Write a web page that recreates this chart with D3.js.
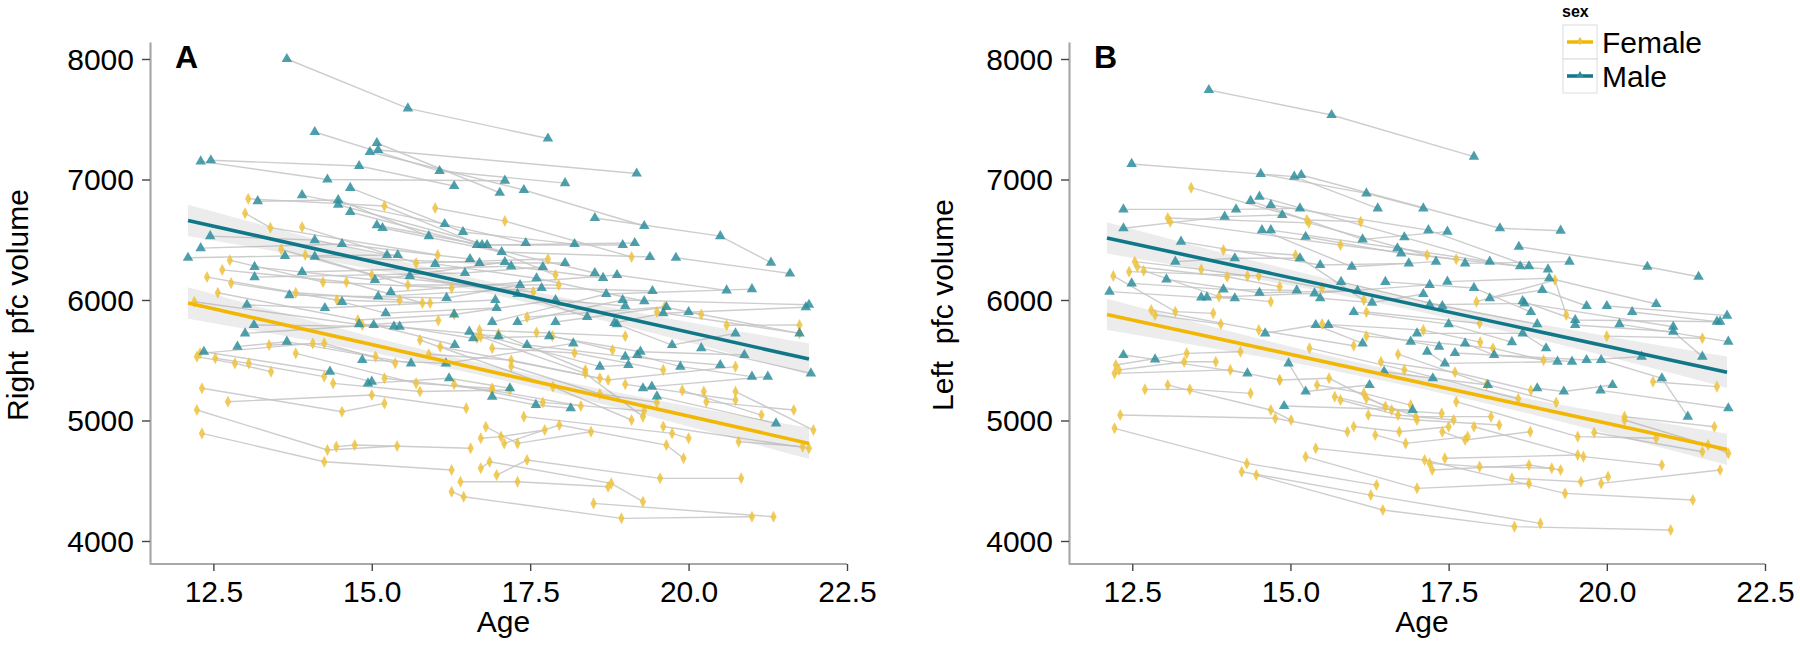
<!DOCTYPE html>
<html><head><meta charset="utf-8">
<script src="https://cdn.jsdelivr.net/npm/d3@7"></script>
<style>
html,body{margin:0;padding:0;background:#fff;}
svg{display:block;font-family:"Liberation Sans",Arial,sans-serif;}
</style></head><body>
<svg id="c" width="1800" height="645"></svg>
<script>
// ---------------- DATA ----------------
const xTicks = [12.5, 15.0, 17.5, 20.0, 22.5];
const yTicks = [4000, 5000, 6000, 7000, 8000];
const sexes = ["Female", "Male"];
const panelLetters = ["A", "B"];
const yTitles = ["Right  pfc volume", "Left  pfc volume"];

// Right pfc volume, per subject: [age, volume] visits
const rightFemale = [
 [[13.05,6840],[15.2,6780],[17.9,6207]],
 [[13.0,6720],[13.4,6600],[16.04,6373]],
 [[13.9,6605],[15.7,6307],[17.78,6340]],
 [[16.0,6763],[17.1,6655],[19.1,6357]],
 [[13.57,6420],[15.0,6207],[17.55,6066]],
 [[13.95,6373],[15.57,6124],[17.95,6124]],
 [[12.76,6330],[14.23,6149],[16.26,6099]],
 [[12.64,6250],[14.6,6149],[15.8,5975]],
 [[12.4,6190],[13.8,6060],[15.44,6000]],
 [[12.78,6140],[14.45,6000],[15.92,5975]],
 [[12.57,6060],[14.78,5834],[16.3,5880]],
 [[12.2,5985],[14.85,5792],[16.05,5830]],
 [[17.45,5858],[19.62,5942],[20.2,5880]],
 [[16.7,5750],[17.6,5730],[19.0,5700]],
 [[16.66,5684],[17.85,5700],[18.8,5585]],
 [[17.0,5720],[18.37,5419]],
 [[16.72,5696],[18.37,5391],[19.28,5032]],
 [[15.76,5668],[17.86,5281],[19.1,5004]],
 [[12.24,5530],[12.84,5474],[13.41,5405]],
 [[12.29,5557],[14.07,5640],[15.06,5530]],
 [[12.53,5516],[13.06,5474],[14.25,5364]],
 [[13.38,5626],[14.25,5640],[15.37,5474]],
 [[13.8,5557],[15.7,5308],[16.9,5267]],
 [[14.39,5308],[15.76,5240],[17.18,5253]],
 [[12.32,5267],[14.53,5073],[15.2,5142]],
 [[12.73,5156],[15.0,5211],[16.49,5101]],
 [[12.24,5087],[14.3,4755],[15.4,4788]],
 [[12.32,4893],[14.25,4658],[16.26,4589]],
 [[14.44,4783],[14.73,4796],[16.56,4769]],
 [[16.08,5612],[18.73,5336],[20.74,5447]],
 [[16.8,4948],[17.3,4810],[18.46,4907]],
 [[16.72,4852],[17.04,4866],[17.73,4921]],
 [[16.4,4492],[17.3,4492],[18.73,4450]],
 [[16.26,4409],[16.45,4367],[18.94,4188],[21.0,4201]],
 [[16.72,4603],[16.86,4658],[18.78,4478],[19.28,4326]],
 [[16.97,4547],[17.45,4672],[19.55,4520],[20.83,4520]],
 [[17.09,4810],[17.96,4962],[19.65,4796],[19.92,4686]],
 [[17.4,5032],[19.74,4893],[20.0,4852]],
 [[18.5,4312],[21.34,4201]],
 [[20.24,5240],[20.28,5156],[21.66,5087]],
 [[20.74,5240],[21.97,4921]],
 [[19.0,5300],[20.74,5170]],
 [[20.79,4824],[21.8,4783]],
 [[19.6,4950],[21.9,4769]],
 [[19.9,5250],[21.15,5045]],
 [[19.5,5900],[21.75,5723]],
 [[20.6,5790],[21.75,5792]],
 [[15.9,5550],[17.2,5500],[18.6,5350]],
 [[16.9,5600],[18.2,5560],[19.6,5420]],
 [[16.3,5300],[17.7,5150],[19.3,5080]],
 [[15.2,5350],[16.9,5250],[18.3,5120]],
 [[17.2,5450],[18.6,5220],[19.5,5150]]
];
const rightMale = [
 [[13.66,8000],[15.57,7590],[17.78,7340]],
 [[14.1,7394],[16.07,7070],[18.05,6970]],
 [[12.3,7150],[14.3,7000],[17.1,6990]],
 [[12.46,7160],[14.8,7112],[16.3,6946]],
 [[15.08,7303],[17.02,6890]],
 [[14.97,7228],[17.4,6913],[19.3,6614]],
 [[15.1,7245],[19.18,7050]],
 [[13.9,6870],[16.15,6630],[17.43,6473]],
 [[14.66,6930],[16.44,6564],[18.2,6464]],
 [[13.2,6820],[14.47,6830],[15.9,6530]],
 [[14.47,6790],[16.82,6456],[18.96,6456]],
 [[14.66,6730],[16.66,6456],[18.52,6224]],
 [[15.08,6620],[16.74,6456],[19.15,6473]],
 [[15.17,6597],[17.05,6398],[19.39,6357]],
 [[18.52,6680],[20.5,6530],[21.3,6310]],
 [[12.45,6530],[14.1,6497],[15.24,6373]],
 [[12.1,6350],[13.63,6365],[15.41,6373]],
 [[12.3,6430],[14.53,6464],[16.55,6340]],
 [[14.1,6360],[16.7,6307],[18.05,6307]],
 [[13.15,6275],[15.05,6166],[17.1,6315]],
 [[13.15,6190],[16.47,6224],[17.7,6274]],
 [[13.9,6232],[17.2,6280],[18.65,6183]],
 [[13.7,6040],[16.18,6017],[17.34,6124]],
 [[13.03,5960],[14.26,5933],[16.95,6000]],
 [[15.3,6066],[18.87,6207],[20.6,6080]],
 [[14.53,5984],[15.22,5891],[16.97,5933]],
 [[15.1,6030],[17.68,6099],[19.43,6074]],
 [[16.9,5817],[18.7,6050],[21.0,6090]],
 [[17.3,5817],[18.96,6000],[21.9,5960]],
 [[17.9,5817],[19.65,5942]],
 [[18.83,5810],[19.6,5890],[21.85,5940]],
 [[14.8,5800],[15.35,5780],[17.0,5700]],
 [[12.35,5570],[14.34,5405],[15.0,5322]],
 [[12.88,5613],[13.66,5654],[15.62,5474]],
 [[13.0,5723],[15.03,5792],[16.31,5626]],
 [[13.14,5792],[15.44,5779],[16.6,5682]],
 [[14.85,5502],[16.17,5474],[18.18,5640]],
 [[14.94,5308],[16.22,5350],[17.18,5267]],
 [[16.9,5198],[17.59,5129],[18.14,5101]],
 [[16.54,5737],[18.6,5447],[19.05,5460]],
 [[17.45,5626],[19.0,5530],[20.5,5460]],
 [[17.8,5700],[19.24,5571],[20.88,5543]],
 [[18.87,5800],[19.74,5626],[20.74,5723]],
 [[19.19,5543],[19.87,5447],[21.0,5364]],
 [[19.28,5267],[19.42,5281],[21.25,5364]],
 [[20.0,5900],[21.75,5723]],
 [[20.2,5600],[21.93,5391]],
 [[19.5,5200],[21.38,4976]],
 [[19.8,6350],[21.6,6220]],
 [[16.3,5880],[17.9,6000],[19.0,5950]],
 [[15.6,6200],[17.3,6050],[18.4,5860]],
 [[16.0,6300],[17.6,6180],[19.3,5990]]
];
// Left pfc volume
const leftFemale = [
 [[13.43,6932],[15.26,6664],[16.11,6650]],
 [[13.06,6680],[15.29,6640],[17.16,6373]],
 [[13.1,6650],[15.79,6456],[17.62,6338]],
 [[13.94,6415],[15.08,6373],[16.16,5999]],
 [[12.54,6318],[13.59,6254],[14.32,6200]],
 [[12.58,6276],[14.0,6193],[14.83,6110]],
 [[12.45,6235],[14.5,6200],[15.5,6100]],
 [[12.68,6243],[13.87,6028],[14.69,5986]],
 [[12.2,6200],[13.18,5903],[13.78,5889]],
 [[12.8,5917],[14.5,5750],[16.0,5620]],
 [[12.86,5876],[13.9,5800]],
 [[17.94,5986],[19.18,6166],[19.36,5875]],
 [[16.2,5900],[17.99,5806]],
 [[12.24,5460],[13.36,5557],[14.21,5571]],
 [[12.29,5419],[13.32,5488],[13.82,5488]],
 [[12.22,5391],[14.05,5420],[14.83,5336]],
 [[12.7,5258],[13.41,5258],[14.37,5225]],
 [[13.06,5294],[14.69,5087],[15.01,5004]],
 [[12.31,5045],[14.76,5018],[15.9,4907]],
 [[12.22,4935],[14.31,4644],[16.36,4464]],
 [[14.23,4575],[16.27,4381],[18.95,4146]],
 [[14.46,4547],[16.46,4257],[18.54,4119],[21.01,4091]],
 [[15.24,4700],[17.0,4437],[18.77,4478]],
 [[15.4,4769],[17.12,4672],[19.34,4395],[21.36,4340]],
 [[14.83,5336],[15.61,5350],[16.5,5115]],
 [[15.42,5294],[16.16,5225],[16.9,5128]],
 [[15.7,5198],[16.6,5087],[17.39,5059]],
 [[15.79,5170],[16.7,5045],[17.58,5004]],
 [[16.2,5184],[16.98,5032],[18.17,5032]],
 [[16.23,5045],[17.0,5004],[18.3,4962]],
 [[16.0,4950],[16.72,4907],[17.5,4948]],
 [[16.34,4880],[16.82,4810],[17.8,4866]],
 [[17.4,4907],[17.76,4838],[18.79,4907]],
 [[17.44,4686],[19.54,4713]],
 [[17.2,4644],[17.99,4617],[19.13,4603]],
 [[17.24,4589],[18.77,4630],[19.27,4589]],
 [[18.5,4520],[19.59,4492],[20.02,4534]],
 [[17.62,5156],[19.54,4866],[20.78,4852]],
 [[17.9,4948],[19.63,4700],[20.87,4630]],
 [[19.91,4478],[21.79,4589]],
 [[20.28,5032],[21.7,4948]],
 [[20.28,5004],[21.6,4796],[21.92,4727]],
 [[20.73,5322],[21.74,5281]],
 [[19.8,4900],[21.51,4741]],
 [[20.0,5700],[21.51,5682]],
 [[16.43,5488],[17.6,5400],[18.8,5250]],
 [[15.5,5800],[17.1,5750],[18.0,5650]],
 [[16.2,5700],[18.2,5600],[19.0,5500]],
 [[16.7,5550],[18.1,5300],[19.2,5150]],
 [[15.3,5600],[16.8,5420],[18.6,5180]]
];
const leftMale = [
 [[13.71,7743],[15.65,7535],[17.9,7190]],
 [[12.49,7129],[15.06,7024],[16.38,6760]],
 [[14.53,7046],[16.2,6885],[17.1,6760]],
 [[15.17,7037],[18.31,6595],[19.27,6575]],
 [[18.61,6442],[20.64,6276],[21.45,6193]],
 [[12.36,6752],[14.14,6752],[15.15,6760]],
 [[12.36,6595],[13.96,6692],[14.87,6705]],
 [[14.37,6822],[16.14,6503],[17.48,6567]],
 [[14.51,6858],[16.8,6520],[18.15,6318]],
 [[14.69,6788],[17.18,6580],[18.77,6280]],
 [[14.55,6580],[15.97,6276],[17.3,6318]],
 [[14.69,6580],[16.69,6429],[18.63,6280]],
 [[15.24,6525],[16.75,6387],[19.07,6254]],
 [[13.27,6484],[15.47,6290],[16.87,6304]],
 [[13.18,6318],[14.12,6346],[15.15,6346]],
 [[17.76,6304],[19.41,6318]],
 [[13.04,6171],[14.51,6060],[16.06,6077]],
 [[12.49,6138],[13.94,6088],[15.1,6080]],
 [[12.14,6069],[13.59,6022],[14.12,6014]],
 [[13.68,6022],[15.38,6055],[17.2,6125]],
 [[15.47,6014],[16.29,5978],[17.1,6050]],
 [[17.48,6152],[19.09,6180],[20.78,5967]],
 [[18.15,6014],[18.98,6083],[19.68,5950]],
 [[17.2,5960],[18.7,5972],[21.05,5778]],
 [[18.67,5990],[19.5,5834],[21.79,5820]],
 [[20.0,5950],[21.9,5870]],
 [[12.36,5543],[12.86,5507],[14.32,5391]],
 [[14.6,5723],[15.4,5792],[16.14,5640]],
 [[14.97,5474],[15.24,5240],[16.25,5294]],
 [[14.9,5120],[16.93,5087]],
 [[15.6,5792],[16.9,5654],[17.35,5613]],
 [[17.0,5723],[18.67,5723],[19.04,5599]],
 [[16.48,5405],[17.25,5350],[18.12,5294]],
 [[17.16,5571],[17.44,5474],[19.22,5488]],
 [[17.76,5640],[18.22,5543],[19.45,5488]],
 [[17.6,5560],[19.68,5502],[20.55,5530]],
 [[18.9,5267],[19.32,5240],[20.09,5294]],
 [[19.91,5502],[20.87,5350],[21.28,5032]],
 [[19.5,5792],[21.05,5737],[21.51,5530]],
 [[20.4,5900],[21.74,5820]],
 [[20.2,5800],[21.92,5654]],
 [[19.9,5250],[21.92,5101]],
 [[16.0,5900],[17.5,5800],[18.5,5650]],
 [[16.5,6150],[17.9,6100],[18.8,5900]],
 [[15.8,6150],[17.4,5950],[18.9,5800]]
];

// fitted lines (age, volume) and confidence bands (age, low, high)
const rightFemaleFit = [[12.1,5975],[21.9,4810]];
const rightMaleFit   = [[12.1,6660],[21.9,5510]];
const leftFemaleFit  = [[12.1,5880],[21.9,4760]];
const leftMaleFit    = [[12.1,6515],[21.9,5400]];
const rightFemaleBand = [[12.1,5845,6105],[13.5,5714,5904],[15,5565,5695],[17,5342,5442],[19,5090,5220],[20.5,4881,5071],[21.9,4680,4940]];
const rightMaleBand   = [[12.1,6530,6790],[13.5,6401,6591],[15,6255,6385],[17,6035,6135],[19,5785,5915],[20.5,5580,5770],[21.9,5380,5640]];
const leftFemaleBand  = [[12.1,5750,6010],[13.5,5625,5815],[15,5484,5614],[17,5271,5371],[19,5027,5157],[20.5,4826,5016],[21.9,4630,4890]];
const leftMaleBand    = [[12.1,6385,6645],[13.5,6260,6450],[15,6120,6250],[17,5907,6007],[19,5664,5794],[20.5,5464,5654],[21.9,5270,5530]];

// ---------------- DRAW ----------------
const svg = d3.select("#c");
const colors = {Female:"#F2B705", Male:"#0F7788"};
const ptColors = {Female:"#EDC23C", Male:"#2E8E9C"};
const axisColor = "#a8a8a8";

const panels = [
  {x0:150, x1:847, female:rightFemale, male:rightMale, fFit:rightFemaleFit, mFit:rightMaleFit, fBand:rightFemaleBand, mBand:rightMaleBand, titleX:28},
  {x0:1069, x1:1765, female:leftFemale, male:leftMale, fFit:leftFemaleFit, mFit:leftMaleFit, fBand:leftFemaleBand, mBand:leftMaleBand, titleX:953}
];

panels.forEach((p, i) => {
  const x = d3.scaleLinear().domain([11.5, 22.5]).range([p.x0, p.x1]);
  const y = d3.scaleLinear().domain([3809, 8141]).range([564, 42]);
  const g = svg.append("g");

  const line = d3.line().x(d => x(d[0])).y(d => y(d[1]));
  // subject trajectories
  const subj = g.append("g");
  [...p.female, ...p.male].forEach(s => {
    subj.append("path").attr("d", line(s)).attr("fill","none")
      .attr("stroke","#c4c4c4").attr("stroke-width",1.4).attr("stroke-opacity",0.85);
  });
  // bands
  const area = d3.area().curve(d3.curveMonotoneX).x(d => x(d[0])).y0(d => y(d[1])).y1(d => y(d[2]));
  [p.fBand, p.mBand].forEach(b => {
    g.append("path").attr("d", area(b)).attr("fill","#a0a0a0").attr("fill-opacity",0.2);
  });
  // points
  const diamond = d3.symbol().type(d3.symbolDiamond).size(42);
  const tri = d3.symbol().type(d3.symbolTriangle).size(48);
  p.female.flat().forEach(d => {
    g.append("path").attr("d", diamond()).attr("transform", `translate(${x(d[0])},${y(d[1])}) scale(0.9,1)`)
      .attr("fill", ptColors.Female).attr("fill-opacity",0.85);
  });
  p.male.flat().forEach(d => {
    g.append("path").attr("d", tri()).attr("transform", `translate(${x(d[0])},${y(d[1])})`)
      .attr("fill", ptColors.Male).attr("fill-opacity",0.85);
  });
  // fit lines
  g.append("path").attr("d", line(p.fFit)).attr("stroke", colors.Female).attr("stroke-width",3.6).attr("fill","none");
  g.append("path").attr("d", line(p.mFit)).attr("stroke", colors.Male).attr("stroke-width",3.6).attr("fill","none");

  // axes
  const xa = g.append("g").attr("transform","translate(0,564)")
    .call(d3.axisBottom(x).tickValues(xTicks).tickFormat(d3.format(".1f")).tickSize(7).tickPadding(10).tickSizeOuter(0));
  const ya = g.append("g").attr("transform",`translate(${p.x0},0)`)
    .call(d3.axisLeft(y).tickValues(yTicks).tickFormat(d3.format("d")).tickSize(8).tickPadding(8).tickSizeOuter(0));
  [xa, ya].forEach(a => {
    a.select(".domain").attr("stroke", axisColor).attr("stroke-width",2.2);
    a.selectAll(".tick line").attr("stroke","#444").attr("stroke-width",1.4);
    a.selectAll(".tick text").attr("fill","#000").attr("font-size",30)
      .attr("font-family",'"Liberation Sans",Arial,sans-serif');
  });
  xa.selectAll(".tick text").attr("dy","0.71em");
  ya.selectAll(".tick text").attr("dy","0.35em");
  xa.select(".domain").attr("d", `M${p.x0},0H${p.x1}`);

  // titles
  g.append("text").attr("x", (p.x0+p.x1)/2 + 5).attr("y", 632).attr("text-anchor","middle")
    .attr("font-size",30).text("Age");
  g.append("text").attr("transform", `translate(${p.titleX},305) rotate(-90)`).attr("text-anchor","middle")
    .attr("font-size",30).style("white-space","pre").text(yTitles[i]);
  g.append("text").attr("x", p.x0 + 25).attr("y", 68).attr("font-size",32).attr("font-weight","bold")
    .text(panelLetters[i]);
});

// legend
const lg = svg.append("g");
lg.append("text").attr("x",1562).attr("y",17).attr("font-size",16).attr("font-weight","bold").text("sex");
sexes.forEach((s, k) => {
  const y0 = 25 + k*34;
  lg.append("rect").attr("x",1563).attr("y",y0).attr("width",34).attr("height",34)
    .attr("fill","#fff").attr("stroke","#dcdcdc").attr("stroke-width",1);
  lg.append("line").attr("x1",1567).attr("x2",1593).attr("y1",y0+17).attr("y2",y0+17)
    .attr("stroke",colors[s]).attr("stroke-width",3.5);
  const sym = d3.symbol().type(k===0 ? d3.symbolDiamond : d3.symbolTriangle).size(22);
  lg.append("path").attr("d", sym()).attr("transform",`translate(1580,${y0+16})`).attr("fill",ptColors[s]);
  lg.append("text").attr("x",1602).attr("y",y0+28).attr("font-size",30).text(s);
});
</script>
</body></html>
